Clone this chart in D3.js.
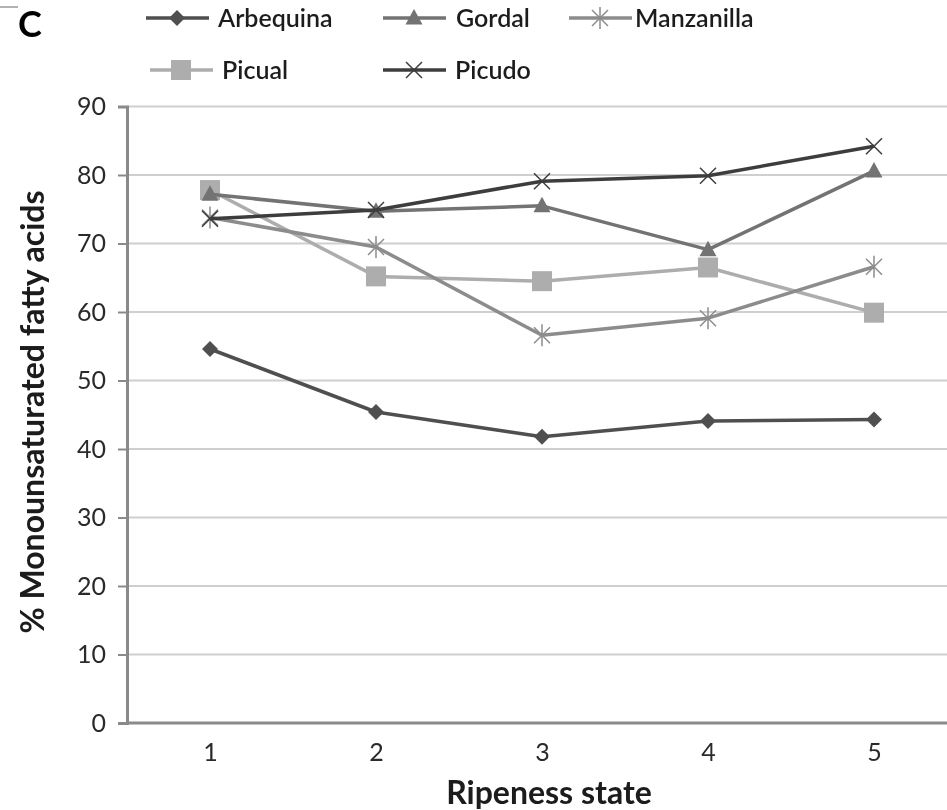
<!DOCTYPE html>
<html>
<head>
<meta charset="utf-8">
<script src="https://cdn.jsdelivr.net/npm/d3@7"></script>
<style>
  html, body { margin: 0; padding: 0; background: #fff; }
  svg text { font-family: Lato, "Open Sans", sans-serif; }
</style>
</head>
<body>
<svg id="chart" width="947" height="810"></svg>
<script>
// Ripeness states on the x axis
const states = ["1", "2", "3", "4", "5"];
// % monounsaturated fatty acids per cultivar
const arbequina  = [54.6, 45.4, 41.8, 44.1, 44.3];
const gordal     = [77.2, 74.7, 75.5, 69.1, 80.6];
const manzanilla = [73.8, 69.5, 56.6, 59.1, 66.6];
const picual     = [77.8, 65.2, 64.5, 66.5, 59.9];
const picudo     = [73.6, 74.9, 79.1, 79.9, 84.2];
const yTicks = [0, 10, 20, 30, 40, 50, 60, 70, 80, 90];

const series = [
  { name: "Arbequina",  values: arbequina,  color: "#505050", marker: "diamond" },
  { name: "Gordal",     values: gordal,     color: "#737373", marker: "triangle" },
  { name: "Manzanilla", values: manzanilla, color: "#8c8c8c", marker: "asterisk" },
  { name: "Picual",     values: picual,     color: "#adadad", marker: "square" },
  { name: "Picudo",     values: picudo,     color: "#3d3d3d", marker: "cross" }
];

const svg = d3.select("#chart");
const defs = svg.append("defs");
defs.append("filter").attr("id", "soft")
  .append("feGaussianBlur").attr("stdDeviation", 0.65);

const root = svg.append("g").attr("filter", "url(#soft)");

const plotL = 127, plotR = 957, plotT = 106.5, plotB = 723;
const x = d3.scalePoint().domain(states).range([plotL, plotR]).padding(0.5);
const y = d3.scaleLinear().domain([0, 90]).range([plotB, plotT]);

// horizontal gridlines
root.append("g").selectAll("line").data(yTicks.filter(d => d > 0)).join("line")
  .attr("x1", plotL).attr("x2", 947)
  .attr("y1", d => y(d)).attr("y2", d => y(d))
  .attr("stroke", "#cfcfcf").attr("stroke-width", 2);

// y axis
const yAxis = root.append("g").attr("transform", `translate(${plotL},0)`)
  .call(d3.axisLeft(y).tickValues(yTicks).tickSize(9).tickPadding(12));
yAxis.select(".domain").attr("stroke", "#8a8a8a").attr("stroke-width", 3);
yAxis.selectAll(".tick line").attr("stroke", "#8a8a8a").attr("stroke-width", 2);
yAxis.selectAll(".tick text").attr("font-size", 25).attr("fill", "#2a2a2a")
  .style("font-family", "Lato, sans-serif");

// x axis
const xAxis = root.append("g").attr("transform", `translate(0,${plotB})`)
  .call(d3.axisBottom(x).tickSize(0).tickPadding(20));
xAxis.select(".domain").attr("d", `M${plotL},0H947`).attr("stroke", "#8a8a8a").attr("stroke-width", 3);
xAxis.selectAll(".tick text").attr("font-size", 25).attr("fill", "#2a2a2a")
  .style("font-family", "Lato, sans-serif");

// axis titles
root.append("text").attr("x", 549).attr("y", 804).attr("text-anchor", "middle")
  .attr("font-size", 32).attr("font-weight", "bold").attr("fill", "#1a1a1a")
  .text("Ripeness state");
root.append("text").attr("transform", "translate(44,412) rotate(-90)")
  .attr("text-anchor", "middle").attr("font-size", 32).attr("font-weight", "bold").attr("fill", "#1a1a1a")
  .text("% Monounsaturated fatty acids");

// panel letter
root.append("text").attr("x", 18).attr("y", 37).attr("font-size", 36)
  .attr("font-weight", "bold").attr("fill", "#000").text("C");
root.append("line").attr("x1", 0).attr("x2", 18).attr("y1", 7).attr("y2", 7)
  .attr("stroke", "#999").attr("stroke-width", 1.5);

function drawMarker(g, type, color) {
  if (type === "diamond") {
    g.append("path").attr("d", "M0,-8L8,0L0,8L-8,0Z").attr("fill", color);
  } else if (type === "triangle") {
    g.append("path").attr("d", "M0,-9L8.5,6.5L-8.5,6.5Z").attr("fill", color);
  } else if (type === "square") {
    g.append("rect").attr("x", -10).attr("y", -10).attr("width", 20).attr("height", 20).attr("fill", color);
  } else if (type === "cross") {
    g.append("path").attr("d", "M-8,-8L8,8M-8,8L8,-8").attr("stroke", color).attr("stroke-width", 1.5);
  } else if (type === "asterisk") {
    g.append("path").attr("d", "M-8,-8L8,8M-8,8L8,-8M0,-11V11").attr("stroke", color).attr("stroke-width", 1.5);
  }
}

const line = d3.line().x((d, i) => x(states[i])).y(d => y(d));
const drawOrder = ["Picual", "Manzanilla", "Gordal", "Arbequina", "Picudo"];
drawOrder.forEach(name => {
  const s = series.find(d => d.name === name);
  const g = root.append("g");
  g.append("path").attr("d", line(s.values)).attr("fill", "none")
    .attr("stroke", s.color).attr("stroke-width", 3.5).attr("stroke-linejoin", "round");
  s.values.forEach((v, i) => {
    drawMarker(g.append("g").attr("transform", `translate(${x(states[i])},${y(v)})`), s.marker, s.color);
  });
});

// legend
const legendPos = [
  { name: "Arbequina",  lx: 146, ly: 18, tx: 218 },
  { name: "Gordal",     lx: 383, ly: 18, tx: 456 },
  { name: "Manzanilla", lx: 569, ly: 18, tx: 635 },
  { name: "Picual",     lx: 150, ly: 70, tx: 222 },
  { name: "Picudo",     lx: 383, ly: 70, tx: 455 }
];
legendPos.forEach(p => {
  const s = series.find(d => d.name === p.name);
  const g = root.append("g").attr("transform", `translate(${p.lx},${p.ly})`);
  g.append("line").attr("x1", 0).attr("x2", 63).attr("stroke", s.color).attr("stroke-width", 3.5);
  drawMarker(g.append("g").attr("transform", "translate(31,0)"), s.marker, s.color);
  g.append("text").attr("x", p.tx - p.lx).attr("y", 9)
    .attr("font-size", 25).attr("font-weight", 600).attr("fill", "#1e1e1e").text(p.name);
});
</script>
</body>
</html>
